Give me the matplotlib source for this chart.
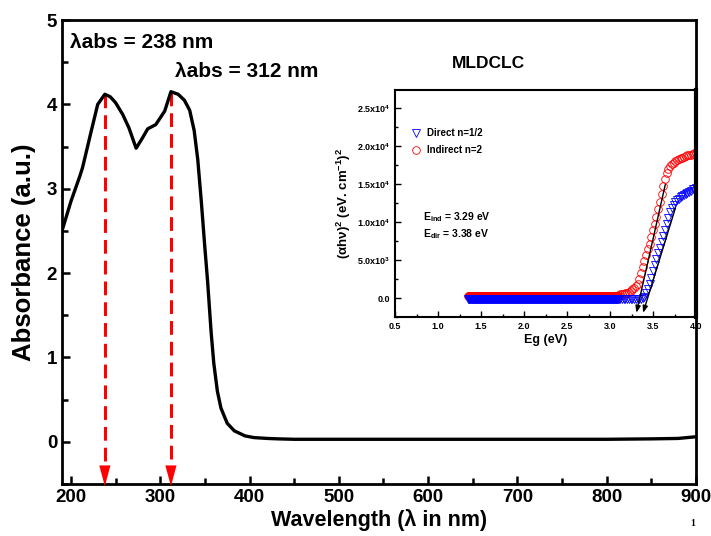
import numpy as np
import matplotlib
matplotlib.use('Agg')
import matplotlib.pyplot as plt
from matplotlib.ticker import MultipleLocator, FixedLocator, FixedFormatter

plt.rcParams['font.family'] = ['Liberation Sans', 'DejaVu Sans']
plt.rcParams['font.weight'] = 'bold'
plt.rcParams['axes.labelweight'] = 'bold'
plt.rcParams['mathtext.fontset'] = 'custom'
plt.rcParams['mathtext.rm'] = 'Liberation Sans:bold'
plt.rcParams['mathtext.it'] = 'Liberation Sans:bold'
plt.rcParams['mathtext.bf'] = 'Liberation Sans:bold'

# main UV-vis spectrum
wavelength = [190, 200, 210, 213, 222, 230, 238, 244, 250, 258, 265, 273, 280, 286, 295,
              305, 312, 320, 327, 333, 338, 342, 346, 350, 353, 357, 360, 364, 368,
              375, 383, 395, 405, 420, 432, 450, 500, 550, 600, 650, 700, 750, 800,
              850, 880, 900]
absorbance = [2.5, 2.85, 3.15, 3.25, 3.65, 4.0, 4.12, 4.09, 4.02, 3.88, 3.72, 3.48, 3.6,
              3.71, 3.76, 3.92, 4.15, 4.12, 4.05, 3.93, 3.69, 3.35, 2.85, 2.3, 1.91,
              1.3, 0.93, 0.6, 0.40, 0.22, 0.13, 0.07, 0.05, 0.04, 0.035, 0.03, 0.03,
              0.03, 0.03, 0.03, 0.03, 0.03, 0.03, 0.035, 0.04, 0.06]
peak_nm = [238, 312]
peak_abs = [4.12, 4.15]
peak_labels = ['λabs = 238 nm', 'λabs = 312 nm']

# inset Tauc plot
flat_e = np.arange(1.35, 3.10, 0.005)
flat_direct = -150
flat_indirect = 300
rise_e = np.round(np.arange(3.10, 4.001, 0.02), 2)
rise_direct = [-150, -150, -150, -150, -150, -150, -150, -150, -150, -150, -150,
               -140, -120, -90, 0, 200, 600, 1200, 1900, 2700, 3500, 4300, 5100,
               5900, 6600, 7400, 8200, 9000, 9800, 10600, 11300, 11900, 12300, 12600,
               12850, 13050, 13250, 13400, 13550, 13700, 13850, 14000, 14150, 14300,
               14400, 14500]
rise_indirect = [450, 480, 520, 570, 630, 700, 800, 950, 1150, 1350, 1600, 1900,
                 2500, 3300, 4100, 4900, 5700, 6400, 7100, 8000, 8900, 9800, 10700,
                 11700, 12700, 13700, 14700, 15700, 16500, 17000, 17400, 17650, 17850,
                 18000, 18150, 18300, 18400, 18500, 18600, 18700, 18800, 18850, 18900,
                 19000, 19050, 19100]
fit_ind = [(3.65, 15300), (3.30, -2300)]
fit_dir = [(3.77, 12200), (3.375, -2300)]

fig = plt.figure(figsize=(7.11, 5.36), dpi=100)
ax = fig.add_axes([62/711, 1-484/536, (696-62)/711, (484-20)/536])
ax.plot(wavelength, absorbance, color='black', lw=2.4, zorder=3)
for x, y in zip(peak_nm, peak_abs):
    ax.plot([x, x], [y, -0.33], color='red', lw=2.2, ls=(0, (4.5, 2.3)), zorder=2)
    ax.annotate('', xy=(x, -0.56), xytext=(x, -0.3), annotation_clip=False,
                arrowprops=dict(arrowstyle='-|>,head_length=1.5,head_width=0.4',
                                color='red', lw=0.01))
ax.set_xlim(190, 900)
ax.set_ylim(-0.5, 5)
ax.xaxis.set_major_locator(MultipleLocator(100))
ax.xaxis.set_minor_locator(MultipleLocator(50))
ax.yaxis.set_major_locator(FixedLocator([0, 1, 2, 3, 4, 5]))
ax.yaxis.set_minor_locator(MultipleLocator(0.5))
ax.tick_params(which='both', direction='in', width=1.8, labelsize=13.5, top=False, right=False)
ax.tick_params(which='major', length=6)
ax.tick_params(which='minor', length=4)
for s in ax.spines.values():
    s.set_linewidth(2)
ax.set_xlabel('Wavelength (λ in nm)', fontsize=15.5, labelpad=2)
ax.set_ylabel('Absorbance (a.u.)', fontsize=18.5, labelpad=8)

fig.text(70/711, 1-43/536, peak_labels[0], fontsize=15, va='center')
fig.text(175/711, 1-72/536, peak_labels[1], fontsize=15, va='center')
fig.text(690/711, 1-524/536, '1', fontsize=7, family='Liberation Serif', va='center')

ins = fig.add_axes([395/711, 1-317/536, (696-395)/711, (317-90)/536])
ins.patch.set_alpha(0)
ins.plot(flat_e, [flat_indirect]*len(flat_e), ls='none', marker='o', mfc='none',
         mec='red', ms=5.5, mew=0.6)
ins.plot(rise_e, rise_indirect, ls='none', marker='o', mfc='none', mec='red', ms=5.5,
         mew=0.6, label='Indirect n=2')
ins.plot(flat_e, [flat_direct]*len(flat_e), ls='none', marker='v', mfc='none',
         mec='blue', ms=5.5, mew=0.6)
ins.plot(rise_e, rise_direct, ls='none', marker='v', mfc='none', mec='blue', ms=5.5,
         mew=0.6, label='Direct n=1/2')
for fit in (fit_ind, fit_dir):
    ins.annotate('', xy=fit[1], xytext=fit[0], annotation_clip=False,
                 arrowprops=dict(arrowstyle='-|>,head_length=0.4,head_width=0.15',
                                 color='black', lw=1.0))
ins.set_xlim(0.5, 4.0)
ins.set_ylim(-2500, 27400)
ins.xaxis.set_major_locator(MultipleLocator(0.5))
ins.xaxis.set_minor_locator(MultipleLocator(0.25))
ins.yaxis.set_major_locator(FixedLocator([0, 5000, 10000, 15000, 20000, 25000]))
ins.yaxis.set_major_formatter(FixedFormatter(
    ['0.0', '5.0x10$^{3}$', '1.0x10$^{4}$', '1.5x10$^{4}$', '2.0x10$^{4}$', '2.5x10$^{4}$']))
ins.yaxis.set_minor_locator(MultipleLocator(2500))
ins.tick_params(which='both', direction='in', labelsize=6.5, width=1, top=False, right=False)
ins.tick_params(which='major', length=4)
ins.tick_params(which='minor', length=2.5)
for s in ins.spines.values():
    s.set_linewidth(1.5)
ins.spines['right'].set_linewidth(3)
ins.set_xlabel('Eg (eV)', fontsize=9, labelpad=2)
ins.set_ylabel(r'$(\alpha h\nu)^2$ (eV. cm$^{-1}$)$^2$', fontsize=9.5, labelpad=3)
h, l = ins.get_legend_handles_labels()
ins.legend(h[::-1], l[::-1], loc='upper left', bbox_to_anchor=(0.02, 0.87), frameon=False,
           fontsize=7, handletextpad=0.6, labelspacing=0.7, handlelength=1.2)
ins.text(0.093, 0.44, r'E$_{ind}$ = 3.29 eV', transform=ins.transAxes, fontsize=7.5, va='center')
ins.text(0.093, 0.366, r'E$_{dir}$ = 3.38 eV', transform=ins.transAxes, fontsize=7.5, va='center')
fig.text(488/711, 1-63/536, 'MLDCLC', fontsize=12.5, ha='center', va='center')

fig.savefig('out.png', dpi=100)
